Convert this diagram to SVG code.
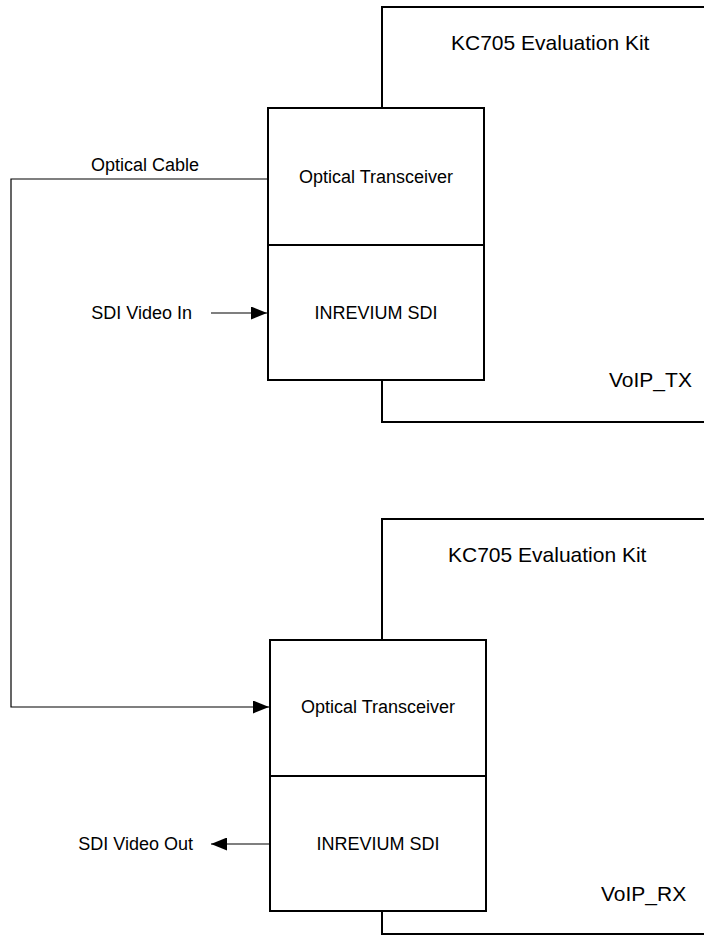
<svg xmlns="http://www.w3.org/2000/svg" width="704" height="935" viewBox="0 0 704 935">
<style>
.box{fill:#fff;stroke:#000;stroke-width:2}
.kit{fill:none;stroke:#000;stroke-width:2}
.conn{fill:none;stroke:#000;stroke-width:1.2}
text{font-family:"Liberation Sans",Arial,sans-serif;fill:#000}
.t18{font-size:18px}
.t21{font-size:21px}
</style>
<defs>
<marker id="arr" markerUnits="userSpaceOnUse" markerWidth="17" markerHeight="13" refX="16" refY="6.5" orient="auto">
<path d="M0,0 L16,6.5 L0,13 Z" fill="#000"/>
</marker>
</defs>
<g id="kit-tx">
<path class="kit" d="M382,108 V7 H705"/>
<path class="kit" d="M382,380 V422 H705"/>
<text class="t21" x="451" y="50">KC705 Evaluation Kit</text>
<text class="t21" x="609" y="387">VoIP_TX</text>
</g>
<g id="kit-rx">
<path class="kit" d="M382,640 V519 H705"/>
<path class="kit" d="M382,911 V934 H705"/>
<text class="t21" x="448" y="562">KC705 Evaluation Kit</text>
<text class="t21" x="601" y="901">VoIP_RX</text>
</g>
<g id="tx-optical">
<rect class="box" x="268" y="108" width="216" height="137"/>
<text class="t18" x="376" y="183" text-anchor="middle">Optical Transceiver</text>
</g>
<g id="tx-sdi">
<rect class="box" x="268" y="245" width="216" height="135"/>
<text class="t18" x="376" y="319" text-anchor="middle">INREVIUM SDI</text>
</g>
<g id="rx-optical">
<rect class="box" x="270" y="640" width="216" height="136"/>
<text class="t18" x="378" y="713" text-anchor="middle">Optical Transceiver</text>
</g>
<g id="rx-sdi">
<rect class="box" x="270" y="776" width="216" height="135"/>
<text class="t18" x="378" y="850" text-anchor="middle">INREVIUM SDI</text>
</g>
<g id="connectors">
<path class="conn" d="M267,179 H11 V707 H269" marker-end="url(#arr)"/>
<text class="t18" x="145" y="171" text-anchor="middle">Optical Cable</text>
<path class="conn" d="M211,313 H267" marker-end="url(#arr)"/>
<text class="t18" x="192" y="319" text-anchor="end">SDI Video In</text>
<path class="conn" d="M269,844 H211" marker-end="url(#arr)"/>
<text class="t18" x="193" y="850" text-anchor="end">SDI Video Out</text>
</g>
</svg>
